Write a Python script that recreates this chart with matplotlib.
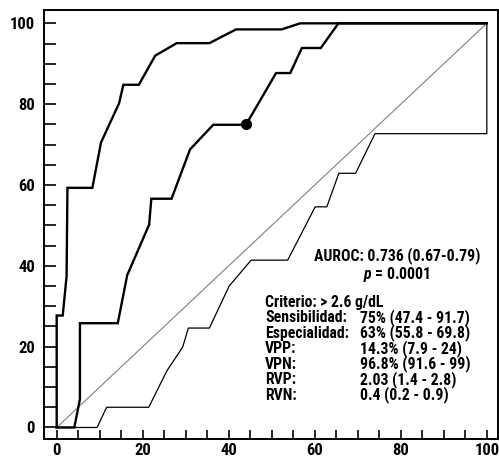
import matplotlib
matplotlib.use("Agg")
import matplotlib.pyplot as plt
from matplotlib.ticker import MultipleLocator

FONT = ['Roboto Condensed', 'Asap Condensed', 'Barlow Condensed', 'DejaVu Sans']
plt.rcParams['font.family'] = FONT
plt.rcParams['mathtext.fontset'] = 'custom'
plt.rcParams['mathtext.it'] = 'Roboto Condensed:italic:bold'

# Data
upper_x = [0, 0, 1.4, 2.3, 2.5, 8.3, 10.3, 14.5, 15.5, 19.1, 22.9, 27.9, 35.5, 41.7, 52.3, 56.6, 100]
upper_y = [0, 27.7, 27.7, 37.4, 59.3, 59.3, 70.5, 80.2, 84.8, 84.8, 92.0, 95.1, 95.1, 98.5, 98.5, 100, 100]

middle_x = [0, 4.1, 5.4, 5.4, 14.2, 16.4, 21.5, 22.0, 26.7, 31.0, 36.4, 44.0, 51.0, 54.3, 57.0, 61.4, 65.5, 100]
middle_y = [0, 0, 7.0, 25.8, 25.8, 37.7, 50.2, 56.6, 56.6, 68.8, 74.9, 74.9, 87.7, 87.7, 93.9, 93.9, 100, 100]

lower_x = [0, 9.4, 10.5, 11.6, 21.4, 25.6, 29.3, 30.6, 35.5, 40.1, 45.2, 53.7, 60.1, 62.8, 65.6, 69.5, 74.0, 100, 100]
lower_y = [0, 0, 2.5, 5.0, 5.0, 14.0, 19.9, 24.6, 24.6, 35.0, 41.4, 41.4, 54.6, 54.6, 62.9, 62.9, 72.7, 72.7, 100]

diag_x = [0, 100]
diag_y = [0, 100]

point_x = [44.0]
point_y = [75.0]

tick_labels = ['0', '20', '40', '60', '80', '100']

stats_labels = ['Sensibilidad:', 'Especialidad:', 'VPP:', 'VPN:', 'RVP:', 'RVN:']
stats_values = ['75% (47.4 - 91.7)', '63% (55.8 - 69.8)', '14.3% (7.9 - 24)',
                '96.8% (91.6 - 99)', '2.03 (1.4 - 2.8)', '0.4 (0.2 - 0.9)']

W, H = 499, 457
fig = plt.figure(figsize=(W / 100, H / 100), dpi=100)
ax = fig.add_axes([44 / W, 1 - 439 / H, (498 - 44) / W, (439 - 10) / H])

ax.plot(diag_x, diag_y, color='#808080', lw=0.8, zorder=1)
ax.plot(lower_x, lower_y, color='black', lw=0.9, zorder=2)
ax.plot(middle_x, middle_y, color='black', lw=1.7, zorder=3, solid_joinstyle='miter')
ax.plot(upper_x, upper_y, color='black', lw=1.7, zorder=3, solid_joinstyle='miter')
ax.plot(point_x, point_y, 'o', color='black', ms=7, zorder=4)

ax.set_xlim(-2.95, 102.6)
ax.set_ylim(-2.85, 103.3)

ax.xaxis.set_minor_locator(MultipleLocator(5))
ax.yaxis.set_minor_locator(MultipleLocator(5))
ax.set_xticks(range(0, 101, 20))
ax.set_xticklabels(tick_labels)
ax.set_yticks(range(0, 101, 20))
ax.set_yticklabels(tick_labels)

for lab in ax.get_xticklabels() + ax.get_yticklabels():
    lab.set_fontweight('bold')
    lab.set_fontsize(12)

ax.tick_params(axis='y', which='both', direction='in', length=8.6, width=1.2, pad=6.5)
ax.tick_params(axis='x', which='both', direction='in', length=6.5, width=1.2, pad=3)

for s in ax.spines.values():
    s.set_linewidth(1.4)

def ptext(x, y, s, **kw):
    fig.text(x / W, 1 - y / H, s, va='baseline', fontsize=11.3, fontweight='bold', **kw)

ptext(314, 260.7, 'AUROC: 0.736 (0.67-0.79)')
ptext(397, 279.3, r'$p$ = 0.0001', ha='center')
ptext(265, 306.7, 'Criterio: > 2.6 g/dL')
for i, (l, v) in enumerate(zip(stats_labels, stats_values)):
    yb = 322.2 + i * 15.5
    ptext(265, yb, l)
    ptext(360, yb, v)

fig.savefig('out.png', dpi=100)
